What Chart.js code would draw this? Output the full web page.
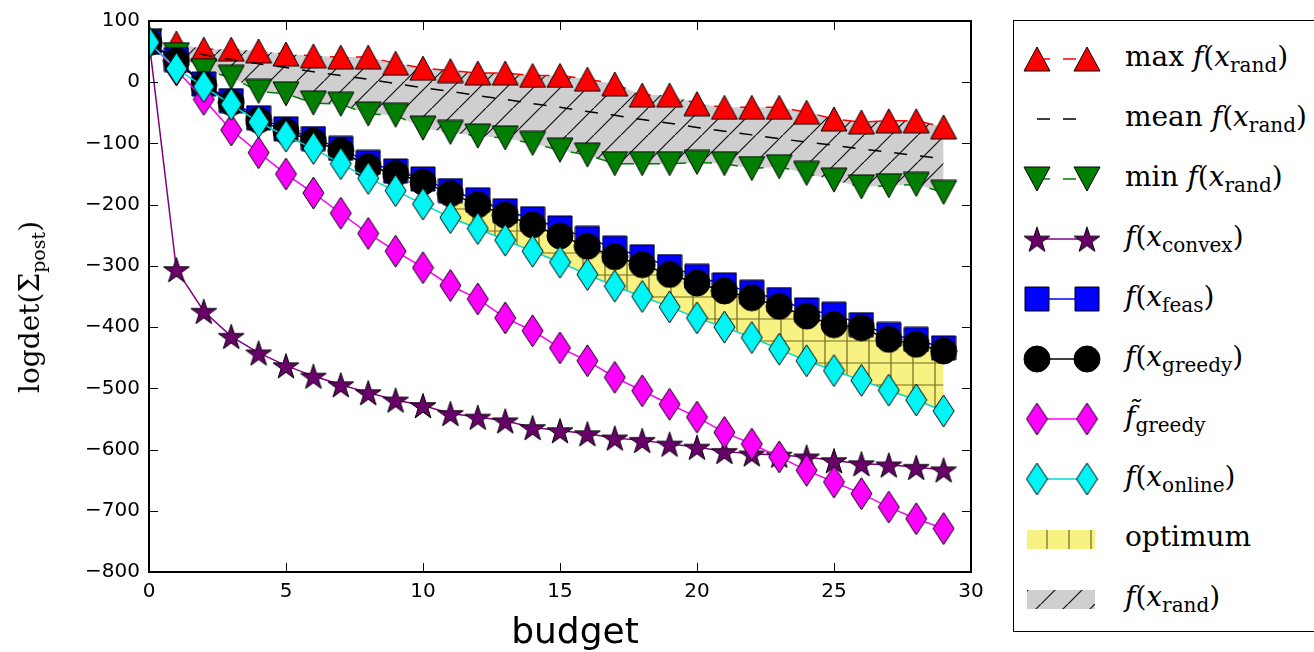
<!DOCTYPE html>
<html>
<head>
<meta charset="utf-8">
<script src="https://cdn.jsdelivr.net/npm/chart.js@4/dist/chart.umd.min.js"></script>
<style>
  html, body { margin: 0; padding: 0; background: #fff; overflow: hidden; }
  body { width: 1314px; height: 652px; position: relative; }
  #wrap { position: absolute; left: 0; top: 0; width: 1000px; height: 652px; }
  #ytitle {
    position: absolute; left: 31px; top: 307px;
    transform: translate(-50%, -50%) rotate(-90deg);
    font-family: "DejaVu Serif", serif; font-size: 28px; white-space: nowrap;
  }
  #xtitle {
    position: absolute; left: 575px; top: 630px;
    transform: translate(-50%, -50%);
    font-family: "DejaVu Sans", sans-serif; font-size: 36px; white-space: nowrap;
  }
  #legend {
    position: absolute; left: 1013px; top: 20px; width: 330px; height: 612px;
    border: 1.5px solid #000; box-sizing: border-box;
  }
  .row { position: absolute; left: 0; height: 44px; width: 330px; }
  .row canvas { position: absolute; left: 0; top: 0; }
  .lbl {
    position: absolute; left: 111px; top: 50%; transform: translateY(-58%);
    font-family: "DejaVu Serif", serif; font-size: 28px; white-space: nowrap;
  }
  .lbl sub { font-size: 20px; vertical-align: -6px; line-height: 0; }
  i { font-style: italic; }
</style>
</head>
<body>
<div id="wrap"><canvas id="c" width="1000" height="652"></canvas></div>
<div id="ytitle">logdet(Σ<sub style="font-size:19px;vertical-align:-6px">post</sub>)</div>
<div id="xtitle">budget</div>
<div id="legend"></div>
<script>
const budget = [0, 1, 2, 3, 4, 5, 6, 7, 8, 9, 10, 11, 12, 13, 14, 15, 16, 17, 18, 19, 20, 21, 22, 23, 24, 25, 26, 27, 28, 29];
const maxRand = [68, 64, 54, 54, 51, 46, 43, 41, 41, 31, 23, 19, 15, 15, 11, 11, 5, -3, -21, -21, -35, -41, -41, -41, -49, -60, -65, -63, -63, -73];
const meanRand = [68, 57, 45, 37, 30, 24, 17, 11, 5, -2, -9, -15, -22, -28, -35, -41, -48, -54, -61, -67, -74, -80, -86, -92, -98, -103, -109, -114, -120, -125];
const minRand = [68, 45, 19, 8, -15, -19, -34, -36, -52, -54, -75, -82, -88, -91, -100, -111, -119, -133, -133, -133, -131, -133, -141, -138, -149, -160, -171, -169, -167, -180];
const convex = [68, -306, -374, -415, -442, -463, -480, -494, -507, -519, -528, -541, -547, -553, -564, -569, -574, -581, -585, -591, -596, -603, -607, -609, -612, -618, -623, -625, -629, -633];
const feas = [65, 37, -3, -30, -58, -76, -92, -108, -131, -145, -158, -177, -192, -210, -223, -238, -255, -271, -285, -301, -317, -331, -343, -355, -372, -379, -396, -412, -420, -434];
const greedy = [65, 35, -5, -33, -62, -80, -96, -112, -138, -149, -163, -182, -200, -217, -233, -251, -268, -285, -298, -314, -328, -341, -352, -366, -382, -396, -401, -420, -428, -439];
const greedyTilde = [65, 20, -28, -78, -115, -150, -181, -214, -247, -276, -303, -332, -354, -385, -406, -434, -455, -482, -504, -526, -547, -572, -591, -612, -634, -653, -672, -694, -713, -729];
const online = [65, 22, -7, -36, -65, -88, -108, -133, -157, -177, -199, -221, -239, -258, -276, -294, -314, -333, -350, -367, -385, -400, -417, -436, -455, -471, -487, -503, -519, -537];
const optimumStart = 11; // optimum band drawn from this budget on, between greedy and online
const xTicks = [0, 5, 10, 15, 20, 25, 30];
const yTicks = [100, 0, -100, -200, -300, -400, -500, -600, -700, -800];

function pts(ys, from) {
  from = from || 0;
  return ys.slice(from).map((y, i) => ({ x: budget[i + from], y: y }));
}

// marker images, matplotlib-like
function marker(shape, w, h, fill) {
  const c = document.createElement("canvas");
  c.width = w + 2; c.height = h + 2;
  const g = c.getContext("2d");
  const cx = c.width / 2, cy = c.height / 2;
  g.beginPath();
  if (shape === "up") {
    g.moveTo(cx, cy - h / 2); g.lineTo(cx + w / 2, cy + h / 2); g.lineTo(cx - w / 2, cy + h / 2);
  } else if (shape === "down") {
    g.moveTo(cx, cy + h / 2); g.lineTo(cx + w / 2, cy - h / 2); g.lineTo(cx - w / 2, cy - h / 2);
  } else if (shape === "diamond") {
    g.moveTo(cx, cy - h / 2); g.lineTo(cx + w / 2, cy); g.lineTo(cx, cy + h / 2); g.lineTo(cx - w / 2, cy);
  } else if (shape === "square") {
    g.rect(cx - w / 2, cy - h / 2, w, h);
  } else if (shape === "circle") {
    g.arc(cx, cy, w / 2, 0, Math.PI * 2);
  } else if (shape === "star") {
    const R = h / 2, r = R * 0.382;
    for (let k = 0; k < 10; k++) {
      const a = -Math.PI / 2 + k * Math.PI / 5;
      const rr = k % 2 ? r : R;
      g.lineTo(cx + rr * Math.cos(a), cy + 1.5 + rr * Math.sin(a));
    }
  }
  g.closePath();
  g.fillStyle = fill; g.fill();
  g.lineWidth = 1; g.strokeStyle = "#000"; g.stroke();
  return c;
}

const mkUp = marker("up", 26, 24, "#ff0000");
const mkDown = marker("down", 26, 24, "#007f00");
const mkStar = marker("star", 26, 27, "#6a006a");
const mkSquare = marker("square", 24, 24, "#0000ff");
const mkCircle = marker("circle", 26, 26, "#000000");
const mkMag = marker("diamond", 21, 32, "#ff00ff");
const mkCyan = marker("diamond", 21, 32, "#00f5f5");

function hatch(bg, ink, kind, size) {
  const c = document.createElement("canvas");
  c.width = size; c.height = size;
  const g = c.getContext("2d");
  g.fillStyle = bg; g.fillRect(0, 0, size, size);
  g.strokeStyle = ink; g.lineWidth = 1.2;
  g.beginPath();
  if (kind === "/") {
    g.moveTo(-2, size + 2); g.lineTo(size + 2, -2);
  } else {
    g.moveTo(size / 2, 0); g.lineTo(size / 2, size);
    g.moveTo(0, size / 2); g.lineTo(size, size / 2);
  }
  g.stroke();
  return g.createPattern(c, "repeat");
}
const grayHatch = hatch("#cfcfcf", "#111", "/", 27);
const yellowHatch = hatch("#f8f282", "rgba(70,60,0,0.75)", "+", 22);

const dash = [13, 13];

function series(label, data, color, mk, order, extra) {
  return Object.assign({
    label: label, data: pts(data), borderColor: color, backgroundColor: color,
    borderWidth: 1.5, pointStyle: mk, pointRadius: mk ? 12 : 0, order: order, fill: false
  }, extra || {});
}

const datasets = [
  series("online", online, "#00d8d8", mkCyan, 1),
  series("greedyTilde", greedyTilde, "#ff00ff", mkMag, 2),
  series("greedy", greedy, "#000000", mkCircle, 3),
  series("feas", feas, "#0000ff", mkSquare, 4),
  series("convex", convex, "#800080", mkStar, 5),
  series("minRand", minRand, "#008000", mkDown, 6, { borderDash: dash }),
  series("meanRand", meanRand, "#000000", null, 7, { borderDash: dash }),
  series("maxRand", maxRand, "#ff0000", mkUp, 8, { borderDash: dash }),
  { label: "optLow", data: pts(online, optimumStart), borderWidth: 0, pointRadius: 0, order: 9, fill: false },
  { label: "optHigh", data: pts(greedy, optimumStart), borderWidth: 0, pointRadius: 0, order: 9,
    fill: 8, backgroundColor: yellowHatch },
  { label: "randLow", data: pts(minRand), borderWidth: 0, pointRadius: 0, order: 10, fill: false },
  { label: "randHigh", data: pts(maxRand), borderWidth: 0, pointRadius: 0, order: 10,
    fill: 10, backgroundColor: grayHatch }
];

const minus = v => String(v).replace("-", "\u2212");

const frame = {
  id: "frame",
  afterDraw(chart) {
    const { ctx, chartArea: a } = chart;
    const xs = chart.scales.x, ys = chart.scales.y;
    ctx.save();
    ctx.strokeStyle = "#000";
    ctx.lineWidth = 1;
    ctx.beginPath();
    xTicks.forEach(v => {
      const p = Math.round(xs.getPixelForValue(v)) + 0.5;
      ctx.moveTo(p, a.bottom); ctx.lineTo(p, a.bottom - 9);
      ctx.moveTo(p, a.top); ctx.lineTo(p, a.top + 9);
    });
    yTicks.forEach(v => {
      const p = Math.round(ys.getPixelForValue(v)) + 0.5;
      ctx.moveTo(a.left, p); ctx.lineTo(a.left + 9, p);
      ctx.moveTo(a.right, p); ctx.lineTo(a.right - 9, p);
    });
    ctx.stroke();
    ctx.lineWidth = 2;
    ctx.strokeRect(a.left, a.top, a.right - a.left, a.bottom - a.top);
    ctx.restore();
  }
};

new Chart(document.getElementById("c"), {
  type: "line",
  data: { datasets: datasets },
  options: {
    responsive: false,
    animation: false,
    layout: { padding: { top: 18, right: 29, bottom: 0, left: 0 } },
    plugins: { legend: { display: false }, tooltip: { enabled: false } },
    elements: { line: { tension: 0 } },
    scales: {
      x: {
        type: "linear", min: 0, max: 30,
        afterFit: s => { s.height = 80; },
        afterBuildTicks: s => { s.ticks = xTicks.map(v => ({ value: v })); },
        grid: { drawOnChartArea: false, drawTicks: false },
        border: { display: false },
        ticks: { padding: 8, color: "#000", font: { family: "DejaVu Sans", size: 20 }, callback: minus }
      },
      y: {
        min: -800, max: 100,
        afterFit: s => { s.width = 149; },
        afterBuildTicks: s => { s.ticks = yTicks.map(v => ({ value: v })); },
        grid: { drawOnChartArea: false, drawTicks: false },
        border: { display: false },
        ticks: { padding: 9, color: "#000", font: { family: "DejaVu Sans", size: 20 }, callback: minus }
      }
    }
  },
  plugins: [frame]
});

// legend, drawn with the same marker images
const legendRows = [
  { mk: mkUp, color: "#ff0000", dash: dash, html: "max <i>f</i>(<i>x</i><sub>rand</sub>)" },
  { mk: null, color: "#000000", dash: dash, html: "mean <i>f</i>(<i>x</i><sub>rand</sub>)" },
  { mk: mkDown, color: "#008000", dash: dash, html: "min <i>f</i>(<i>x</i><sub>rand</sub>)" },
  { mk: mkStar, color: "#800080", html: "<i>f</i>(<i>x</i><sub>convex</sub>)" },
  { mk: mkSquare, color: "#0000ff", html: "<i>f</i>(<i>x</i><sub>feas</sub>)" },
  { mk: mkCircle, color: "#000000", html: "<i>f</i>(<i>x</i><sub>greedy</sub>)" },
  { mk: mkMag, color: "#ff00ff", html: "<i>f\u0303</i><sub>greedy</sub>" },
  { mk: mkCyan, color: "#00d8d8", html: "<i>f</i>(<i>x</i><sub>online</sub>)" },
  { patch: yellowHatch, html: "optimum" },
  { patch: grayHatch, html: "<i>f</i>(<i>x</i><sub>rand</sub>)" }
];
const legend = document.getElementById("legend");
legendRows.forEach((r, i) => {
  const row = document.createElement("div");
  row.className = "row";
  row.style.top = (16 + i * 60) + "px";
  const cv = document.createElement("canvas");
  cv.width = 105; cv.height = 44;
  const g = cv.getContext("2d");
  const x1 = 23, x2 = 73, cy = 22;
  if (r.patch) {
    g.fillStyle = r.patch;
    g.fillRect(13, cy - 9, 68, 19);
  } else {
    g.strokeStyle = r.color; g.lineWidth = 1.5;
    g.setLineDash(r.dash || []);
    g.beginPath(); g.moveTo(x1, cy); g.lineTo(x2, cy); g.stroke();
    if (r.mk) {
      g.drawImage(r.mk, x1 - r.mk.width / 2, cy - r.mk.height / 2);
      g.drawImage(r.mk, x2 - r.mk.width / 2, cy - r.mk.height / 2);
    }
  }
  row.appendChild(cv);
  const lbl = document.createElement("div");
  lbl.className = "lbl";
  lbl.innerHTML = r.html;
  row.appendChild(lbl);
  legend.appendChild(row);
});
</script>
</body>
</html>
